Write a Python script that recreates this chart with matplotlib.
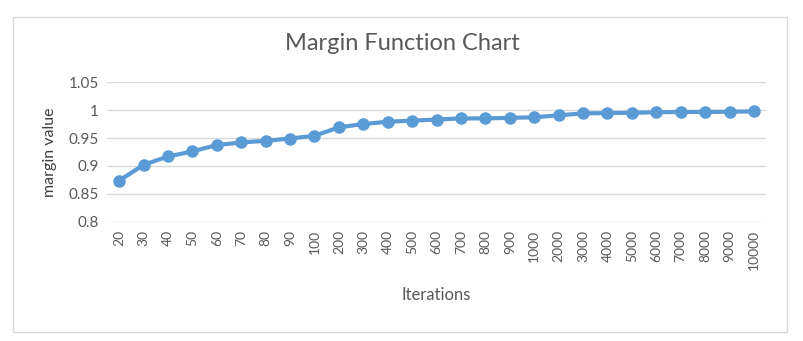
import matplotlib.pyplot as plt
from matplotlib.patches import Rectangle

plt.rcParams['font.family'] = ['Lato', 'DejaVu Sans']

iterations = ['20', '30', '40', '50', '60', '70', '80', '90', '100',
              '200', '300', '400', '500', '600', '700', '800', '900', '1000',
              '2000', '3000', '4000', '5000', '6000', '7000', '8000', '9000', '10000']
margin = [0.874, 0.902, 0.917, 0.926, 0.9375, 0.942, 0.945, 0.949, 0.954,
          0.969, 0.975, 0.979, 0.981, 0.983, 0.985, 0.985, 0.986, 0.987,
          0.9905, 0.994, 0.9945, 0.995, 0.996, 0.9965, 0.9965, 0.997, 0.9975]
yticks = [0.8, 0.85, 0.9, 0.95, 1, 1.05]
yticklabels = ['0.8', '0.85', '0.9', '0.95', '1', '1.05']

fig = plt.figure(figsize=(8.04, 3.41), dpi=100)
ax = fig.add_axes([0.133, 0.349, 0.82, 0.4105])

x = range(len(iterations))
ax.plot(x, margin, color='#5b9bd5', lw=3, marker='o', ms=8, zorder=3)

ax.set_xlim(-0.5, len(iterations) - 0.5)
ax.set_ylim(0.8, 1.05)
ax.set_yticks(yticks)
ax.set_yticklabels(yticklabels, fontsize=11)
ax.set_xticks(list(x))
ax.set_xticklabels(iterations, rotation=90, fontsize=10)
ax.tick_params(length=0, labelcolor='#595959', pad=6)
ax.grid(axis='y', color='#d9d9d9', lw=1)
ax.set_axisbelow(True)
for s in ax.spines.values():
    s.set_visible(False)

ax.set_xlabel('Iterations', fontsize=12, color='#595959', labelpad=12)
ax.set_ylabel('margin value', fontsize=11.5, color='#404040', labelpad=8)
fig.text(0.5, 0.873, 'Margin Function Chart', ha='center', va='center',
         fontsize=17, color='#595959')

fig.patches.append(Rectangle((13 / 804, 1 - 332 / 341), 774 / 804, 315 / 341,
                             transform=fig.transFigure, fill=False,
                             edgecolor='#d9d9d9', lw=1))

plt.savefig('out.png', dpi=100)
